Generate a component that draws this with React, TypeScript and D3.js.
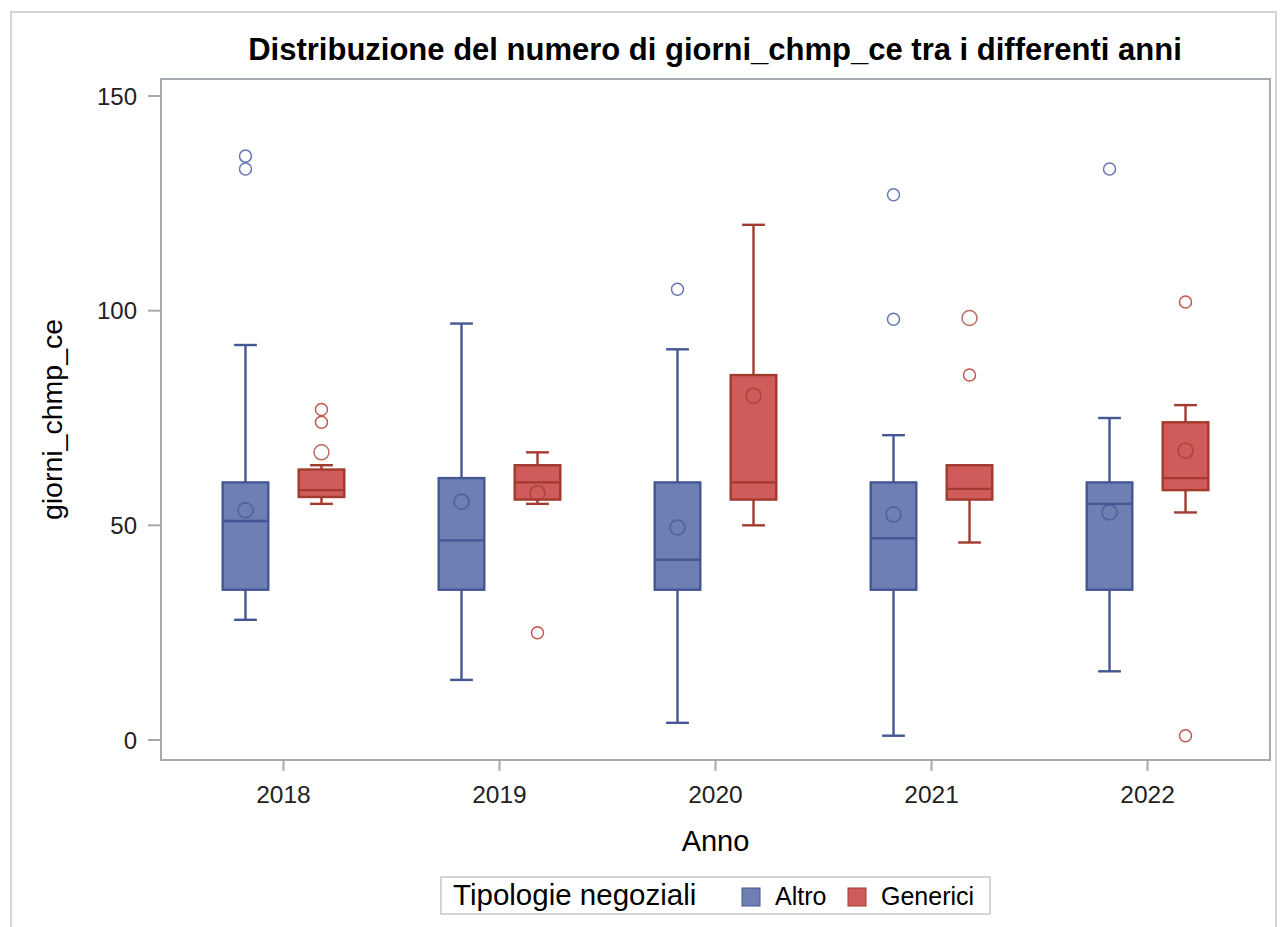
import { scaleLinear, scalePoint, scaleBand } from "d3";
import { useEffect } from "react";

const years = ["2018", "2019", "2020", "2021", "2022"];
const seriesNames = ["Altro", "Generici"];
const yTicks = [0, 50, 100, 150];

// Altro
const altroLow = [28, 14, 4, 1, 16];
const altroQ1 = [35, 35, 35, 35, 35];
const altroMedian = [51, 46.5, 42, 47, 55];
const altroQ3 = [60, 61, 60, 60, 60];
const altroHigh = [92, 97, 91, 71, 75];
const altroMean = [53.5, 55.5, 49.5, 52.5, 53];
const altroOutliers = [[133, 136], [], [105], [98, 127], [133]];

// Generici
const genericiLow = [55, 55, 50, 46, 53];
const genericiQ1 = [56.6, 56, 56, 56, 58.2];
const genericiMedian = [58.2, 60, 60, 58.5, 61];
const genericiQ3 = [63, 64, 85, 64, 74];
const genericiHigh = [64, 67, 120, 64, 78];
const genericiMean = [67, 57.5, 80.2, 98.3, 67.4];
const genericiOutliers = [[74, 77], [25], [], [85], [1, 102]];

const palette: Record<string, { fill: string; line: string; light: string }> = {
  Altro: { fill: "#6F7EB3", line: "#445694", light: "#6677B6" },
  Generici: { fill: "#D05B5B", line: "#A23A2E", light: "#C0574B" },
};

interface BoxStat {
  year: string;
  series: string;
  low: number;
  q1: number;
  median: number;
  q3: number;
  high: number;
  mean: number;
  outliers: number[];
}

const boxes: BoxStat[] = [
  ...years.map((year, i) => ({
    year, series: "Altro", low: altroLow[i], q1: altroQ1[i], median: altroMedian[i], q3: altroQ3[i],
    high: altroHigh[i], mean: altroMean[i], outliers: altroOutliers[i],
  })),
  ...years.map((year, i) => ({
    year, series: "Generici", low: genericiLow[i], q1: genericiQ1[i], median: genericiMedian[i], q3: genericiQ3[i],
    high: genericiHigh[i], mean: genericiMean[i], outliers: genericiOutliers[i],
  })),
];

const FONT = "'Liberation Sans', Arial, Helvetica, sans-serif";

export default function App() {
  useEffect(() => {
    document.body.style.margin = "0";
  }, []);

  const width = 1281;
  const height = 927;
  const plot = { left: 161, right: 1270, top: 79, bottom: 760 };

  const x = scalePoint().domain(years).range([plot.left, plot.right]).padding(0.567);
  const inner = scaleBand().domain(seriesNames).range([-76, 76]).paddingInner(0.4).paddingOuter(0.2);
  const y = scaleLinear().domain([0, 150]).range([740, 96]);
  const bw = inner.bandwidth();
  const capW = bw / 2;
  const sw = 2.4;

  return (
    <svg width={width} height={height} style={{ display: "block", fontFamily: FONT }}>
      <rect x={0} y={0} width={width} height={height} fill="#fff" />
      <rect x={11} y={12} width={1265} height={930} fill="none" stroke="#d4d4d4" strokeWidth={2} />

      <text x={715} y={60} textAnchor="middle" fontSize={31} fontWeight="bold" fill="#000">
        Distribuzione del numero di giorni_chmp_ce tra i differenti anni
      </text>

      {/* boxes */}
      {boxes.map((b) => {
        const c = palette[b.series];
        const cx = (x(b.year) ?? 0) + (inner(b.series) ?? 0) + bw / 2;
        const x0 = cx - bw / 2;
        return (
          <g key={b.year + b.series}>
            <line x1={cx} x2={cx} y1={y(b.q3)} y2={y(b.high)} stroke={c.line} strokeWidth={sw} />
            <line x1={cx} x2={cx} y1={y(b.q1)} y2={y(b.low)} stroke={c.line} strokeWidth={sw} />
            <line x1={cx - capW / 2} x2={cx + capW / 2} y1={y(b.high)} y2={y(b.high)} stroke={c.line} strokeWidth={sw} />
            <line x1={cx - capW / 2} x2={cx + capW / 2} y1={y(b.low)} y2={y(b.low)} stroke={c.line} strokeWidth={sw} />
            <rect
              x={x0}
              y={y(b.q3)}
              width={bw}
              height={y(b.q1) - y(b.q3)}
              fill={c.fill}
              stroke={c.line}
              strokeWidth={sw}
            />
            <line x1={x0} x2={x0 + bw} y1={y(b.median)} y2={y(b.median)} stroke={c.line} strokeWidth={sw} />
            <circle cx={cx} cy={y(b.mean)} r={7.5} fill="none" stroke={c.line} strokeOpacity={0.75} strokeWidth={1.5} />
            {b.outliers.map((o, k) => (
              <circle key={k} cx={cx} cy={y(o)} r={6} fill="none" stroke={c.light} strokeWidth={1.5} />
            ))}
          </g>
        );
      })}

      {/* frame */}
      <rect
        x={plot.left}
        y={plot.top}
        width={plot.right - plot.left}
        height={plot.bottom - plot.top}
        fill="none"
        stroke="#A4AAAE"
        strokeWidth={2}
      />

      {/* y axis */}
      {yTicks.map((t) => (
        <g key={t}>
          <line x1={plot.left - 13} x2={plot.left} y1={y(t)} y2={y(t)} stroke="#A4AAAE" strokeWidth={2} />
          <text x={137} y={y(t) + 8.5} textAnchor="end" fontSize={24} fill="#222">
            {t}
          </text>
        </g>
      ))}
      <text transform={`translate(62, ${(plot.top + plot.bottom) / 2}) rotate(-90)`} textAnchor="middle" fontSize={28.5} fill="#000">
        giorni_chmp_ce
      </text>

      {/* x axis */}
      {years.map((yr) => (
        <g key={yr}>
          <line x1={x(yr)} x2={x(yr)} y1={plot.bottom} y2={plot.bottom + 11} stroke="#A4AAAE" strokeWidth={2} />
          <text x={x(yr)} y={803} textAnchor="middle" fontSize={24.5} fill="#222">
            {yr}
          </text>
        </g>
      ))}
      <text x={(plot.left + plot.right) / 2} y={851} textAnchor="middle" fontSize={29} fill="#000">
        Anno
      </text>

      {/* legend */}
      <rect x={441} y={877} width={549} height={37} fill="#fff" stroke="#d4d4d4" strokeWidth={2} />
      <text x={453} y={905} fontSize={29.5} fill="#000">
        Tipologie negoziali
      </text>
      {seriesNames.map((s, i) => {
        const lx = i === 0 ? 742 : 848;
        return (
          <g key={s}>
            <rect x={lx} y={888} width={18} height={18} fill={palette[s].fill} stroke={palette[s].line} strokeWidth={1} />
            <text x={lx + 33} y={905} fontSize={25} fill="#000">
              {s}
            </text>
          </g>
        );
      })}
    </svg>
  );
}
